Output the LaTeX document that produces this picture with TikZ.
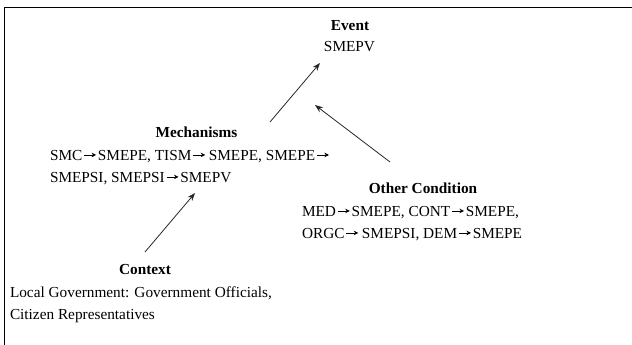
\documentclass[tikz,border=0pt]{standalone}
\usepackage{fontspec}
\setmainfont{Liberation Serif}
\usetikzlibrary{arrows.meta}
\newcommand{\tarr}{\hspace{0.1em}\tikz[baseline=-0.33em]\draw[line width=0.6pt,-{Stealth[length=4.5pt,width=4.5pt]}](0pt,0pt)--(0.78em,0pt);\hspace{0.1em}}
\begin{document}
\begin{tikzpicture}[x=1pt,y=-1pt,
  txt/.style={inner sep=0pt,outer sep=0pt,font=\fontsize{15.3}{22}\selectfont,anchor=base west},
  ttl/.style={inner sep=0pt,outer sep=0pt,font=\fontsize{15.3}{22}\selectfont\bfseries,anchor=base},
  conn/.style={line width=0.8pt,draw=black!85,-{Stealth[length=8pt,width=6pt]}},
  frame/.style={line width=1.2pt}]
\useasboundingbox (0,0) rectangle (632,345);
\draw[frame] (4.5,345) -- (4.5,7.5) -- (632,7.5);
% Event
\node[ttl] (evT) at (350,31) {Event};
\node[txt,anchor=base] (evB) at (349.5,52) {SMEPV};
% Mechanisms
\node[ttl] (meT) at (196.5,137) {Mechanisms};
\node[txt] (meB1) at (50,160) {SMC\tarr SMEPE, TISM\tarr\hspace{0.12em}SMEPE, SMEPE\tarr};
\node[txt] (meB2) at (50,182) {SMEPSI, SMEPSI\tarr SMEPV};
% Other Condition
\node[ttl] (ocT) at (423,193) {Other Condition};
\node[txt] (ocB1) at (302,216) {MED\tarr SMEPE, CONT\tarr SMEPE,};
\node[txt] (ocB2) at (302,238) {ORGC\tarr\hspace{0.12em}SMEPSI, DEM\tarr SMEPE};
% Context
\node[ttl] (coT) at (145,274) {Context};
\node[txt] (coB1) at (10,297) {Local Government: Government Officials,};
\node[txt] (coB2) at (10,319) {Citizen Representatives};
% connectors
\coordinate (m2e) at (270,122);
\coordinate (e1) at (320,63);
\coordinate (o2e) at (390,162);
\coordinate (e2) at (315,105);
\coordinate (c2m) at (145,252);
\coordinate (m1) at (195,193);
\draw[conn] (m2e) -- (e1);
\draw[conn] (o2e) -- (e2);
\draw[conn] (c2m) -- (m1);
\end{tikzpicture}
\end{document}
